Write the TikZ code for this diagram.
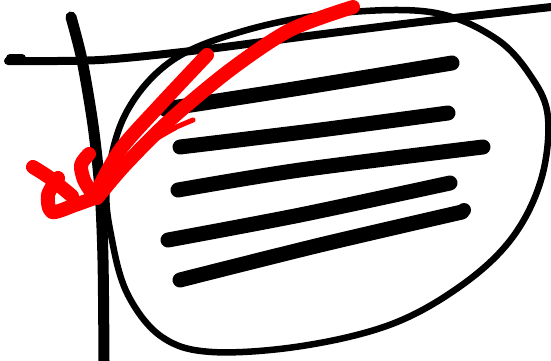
\documentclass[tikz,border=0pt]{standalone}
\usepackage{xcolor}
\usetikzlibrary{calc}
\definecolor{inkred}{RGB}{255, 0, 0}

\begin{document}
\begin{tikzpicture}[
    x=1pt, y=-1pt,
    outline/.style={draw=black, line width=6.5pt, line cap=round, line join=round},
    axis/.style={draw=black, line width=8pt, line cap=round, line join=round},
    textline/.style={draw=black, line width=15pt, line cap=round},
    redstroke/.style={draw=inkred, line width=14pt, line cap=round, line join=round},
    redthin/.style={draw=inkred, line width=5pt, line cap=round}
]
\useasboundingbox (0,0) rectangle (551,361);

% Horizontal rule
\draw[axis] (10,58) -- (22,58);
\draw[axis] plot[smooth] coordinates {(8,61) (100,60) (200,50) (300,37) (420,22) (551,7)};

% Vertical rule
\draw[axis, line width=11pt] plot[smooth] coordinates {(71,17) (82,60) (93,125) (100,190) (103,260) (104,361)};

% Blob
\draw[outline] plot[smooth cycle, tension=0.6] coordinates {
    (107,185) (125,115) (170,62) (240,32) (330,14) (430,12) (495,38)
    (532,78) (548,118) (541,180) (512,238) (462,285) (392,324)
    (302,346) (212,352) (162,337) (128,295) (112,240)};

% Text lines
\draw[textline] plot[smooth] coordinates {(165,109) (300,88) (452,63)};
\draw[textline] plot[smooth] coordinates {(180,147) (320,130) (448,113)};
\draw[textline] plot[smooth] coordinates {(178,190) (300,170) (483,147)};
\draw[textline] plot[smooth] coordinates {(168,240) (300,215) (450,183)};
\draw[textline] plot[smooth] coordinates {(180,280) (320,245) (462,212)};
\fill[black] (464,210) circle (7);

% Red check mark
\draw[redstroke] plot[smooth] coordinates {(353,7) (290,30) (230,70) (170,120) (125,165) (97,198)};
\draw[redstroke] plot[smooth] coordinates {(207,55) (160,105) (120,150) (95,195)};
\draw[redstroke] plot[smooth] coordinates {(33,167) (50,178) (72,196)};
\draw[redstroke] plot[smooth] coordinates {(58,178) (48,195) (52,212) (75,205) (97,197)};
\draw[redstroke] plot[smooth] coordinates {(89,154) (81,165) (84,180) (90,190)};
\draw[redthin] plot[smooth] coordinates {(193,120) (150,140) (110,172)};
\draw[redthin] plot[smooth] coordinates {(175,128) (140,150) (112,185)};

\end{tikzpicture}
\end{document}
